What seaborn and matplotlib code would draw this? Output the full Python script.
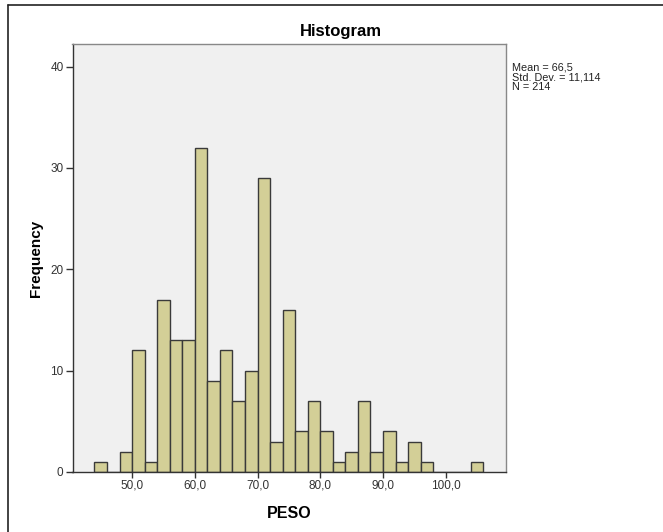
import numpy as np
import pandas as pd
import matplotlib
matplotlib.use("Agg")
import matplotlib.pyplot as plt
from matplotlib.lines import Line2D
import seaborn as sns

# Frequency table of PESO in 2-unit bins starting at 44
bin_edges = list(range(44, 108, 2))
counts = [1, 0, 2, 12, 1, 17, 13, 13, 32, 9, 12, 7, 10, 29, 3, 16,
          4, 7, 4, 1, 2, 7, 2, 4, 1, 3, 1, 0, 0, 0, 1]
x_ticks = [50, 60, 70, 80, 90, 100]
x_tick_labels = ["50,0", "60,0", "70,0", "80,0", "90,0", "100,0"]
y_ticks = [0, 10, 20, 30, 40]
stats_lines = ["Mean = 66,5", "Std. Dev. = 11,114", "N = 214"]

sns.set_theme(style="white")
plt.rcParams["font.family"] = ["Liberation Sans", "DejaVu Sans"]

centers = [e + 1 for e in bin_edges[:-1]]
df = pd.DataFrame({"PESO": centers, "count": counts})

W, H = 663, 532
fig = plt.figure(figsize=(W / 100, H / 100), dpi=100)
ax = fig.add_axes([72.5 / W, 1 - 472 / H, (506 - 72.5) / W, (472 - 44.3) / H])
ax.set_facecolor("#F0F0F0")

sns.histplot(data=df, x="PESO", weights="count", bins=bin_edges, ax=ax,
             color="#D3CF97", alpha=1.0, edgecolor="#3a3a3a", linewidth=1.0)

ax.set_xlim(40.5, 109.6)
ax.set_ylim(0, 42.2)
ax.set_xticks(x_ticks)
ax.set_xticklabels(x_tick_labels)
ax.set_yticks(y_ticks)
ax.set_yticklabels([str(v) for v in y_ticks])
ax.tick_params(axis="both", which="major", direction="out", width=1,
               color="#333333", labelsize=8.5, labelcolor="#333333",
               pad=1.5, left=True, bottom=True)
ax.tick_params(axis="y", length=5)
ax.tick_params(axis="x", length=4)

for side in ["left", "bottom"]:
    ax.spines[side].set_color("#333333")
    ax.spines[side].set_linewidth(1.0)
for side in ["top", "right"]:
    ax.spines[side].set_color("#888888")
    ax.spines[side].set_linewidth(1.0)

fig.text(341 / W, 1 - 36 / H, "Histogram", fontsize=12, fontweight="bold",
         ha="center", va="baseline", color="black")
ax.set_xlabel("PESO", fontsize=11.5, fontweight="bold", labelpad=10, color="black")
ax.set_ylabel("Frequency", fontsize=11, fontweight="bold", labelpad=5, color="black")

fig.text(512 / W, 1 - 63 / H, "\n".join(stats_lines), fontsize=7.8,
         va="top", ha="left", color="#222222", linespacing=0.92)

# Outer frame along the top and left edges
fig.add_artist(Line2D([8 / W, 8 / W], [0, 1 - 5 / H],
                      transform=fig.transFigure, color="#222222", lw=1.2))
fig.add_artist(Line2D([8 / W, 1], [1 - 5 / H, 1 - 5 / H],
                      transform=fig.transFigure, color="#222222", lw=1.2))

fig.savefig("out.png", dpi=100, facecolor="white")
